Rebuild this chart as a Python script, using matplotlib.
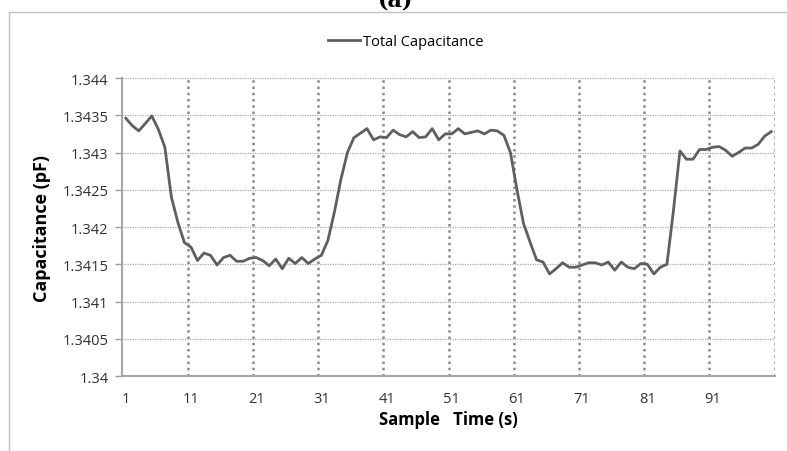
import numpy as np
import matplotlib.pyplot as plt
from matplotlib.patches import Rectangle

# Dati (campioni 1..100)
campioni = np.arange(1, 101)
capacita = [
    1.34346, 1.34336, 1.34329, 1.34339, 1.34349, 1.34331, 1.34307, 1.34240, 1.34206, 1.34179,
    1.34173, 1.34155, 1.34165, 1.34162, 1.34149, 1.34159, 1.34162, 1.34154, 1.34154, 1.34158,
    1.34159, 1.34155, 1.34148, 1.34157, 1.34144, 1.34158, 1.34151, 1.34159, 1.34151, 1.34157,
    1.34162, 1.34182, 1.34220, 1.34264, 1.34300, 1.34320, 1.34326, 1.34332, 1.34317, 1.34321,
    1.34320, 1.34330, 1.34324, 1.34321, 1.34328, 1.34320, 1.34321, 1.34332, 1.34317, 1.34325,
    1.34325, 1.34332, 1.34325, 1.34327, 1.34329, 1.34325, 1.34330, 1.34329, 1.34323, 1.34300,
    1.34250, 1.34205, 1.34180, 1.34156, 1.34153, 1.34137, 1.34144, 1.34152, 1.34146, 1.34146,
    1.34149, 1.34152, 1.34152, 1.34149, 1.34153, 1.34142, 1.34153, 1.34146, 1.34144, 1.34151,
    1.34150, 1.34137, 1.34146, 1.34150, 1.34222, 1.34302, 1.34291, 1.34291, 1.34304, 1.34304,
    1.34307, 1.34308, 1.34303, 1.34295, 1.34300, 1.34306, 1.34306, 1.34311, 1.34322, 1.34328,
]
tick_x = [1, 11, 21, 31, 41, 51, 61, 71, 81, 91]
tick_y = [1.34, 1.3405, 1.341, 1.3415, 1.342, 1.3425, 1.343, 1.3435, 1.344]
etichette_y = ['1.34', '1.3405', '1.341', '1.3415', '1.342', '1.3425', '1.343', '1.3435', '1.344']

plt.rcParams['font.family'] = ['Open Sans', 'DejaVu Sans']

fig = plt.figure(figsize=(7.87, 4.52), dpi=100)
fig.patches.append(Rectangle((8.5 / 787, -0.01), 1.0, 1 - 12.7 / 452 + 0.01,
                             transform=fig.transFigure, fill=False,
                             edgecolor='#c0c0c0', linewidth=1.0))
fig.text(0.503, 0.998, '(a)', ha='center', va='center', fontsize=16,
         fontweight='bold', family='DejaVu Serif')

ax = fig.add_axes([122.5 / 787, 75 / 452, 652 / 787, 298 / 452])

# griglia verticale (confini di categoria)
for xv in np.arange(10.5, 101, 10):
    ax.axvline(xv, color='#8a8a8a', linestyle=(0, (1, 1.5)), linewidth=1.8, zorder=1)
for yv in tick_y[1:]:
    ax.axhline(yv, color='#a8a8a8', linestyle=(0, (1, 1)), linewidth=0.9, zorder=1)

linea, = ax.plot(campioni, capacita, color='#5f5f5f', linewidth=2.0, zorder=3)

ax.set_xlim(0.5, 100.5)
ax.set_ylim(1.34, 1.344)
ax.set_xticks(tick_x)
ax.set_yticks(tick_y)
ax.set_yticklabels(etichette_y)
ax.tick_params(axis='x', length=0, pad=11, labelsize=10.5, labelcolor='#303030')
ax.tick_params(axis='y', length=5, width=1, color='#a0a0a0', pad=5, labelsize=10.5, labelcolor='#303030')

for lato in ['top', 'right']:
    ax.spines[lato].set_visible(False)
for lato in ['left', 'bottom']:
    ax.spines[lato].set_color('#a6a6a6')
    ax.spines[lato].set_linewidth(1.5)

ax.set_xlabel('Sample   Time (s)', fontsize=12, fontweight='bold', labelpad=3)
ax.set_ylabel('Capacitance (pF)', fontsize=13, fontweight='bold', labelpad=8)

fig.legend([linea], ['Total Capacitance'], loc='center', bbox_to_anchor=(0.516, 1 - 43 / 452),
           frameon=False, fontsize=10.5, handlelength=2.2, handletextpad=0.2)

fig.savefig('out.png', dpi=100)
